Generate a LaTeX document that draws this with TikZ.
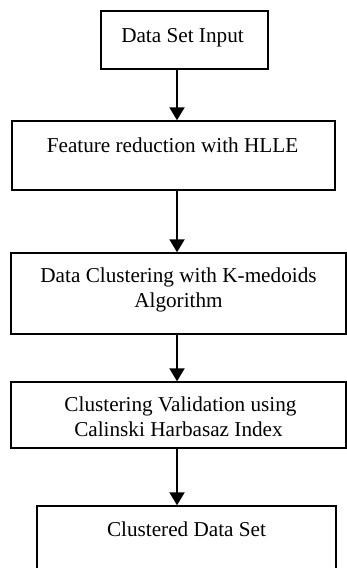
\documentclass[tikz,border=0pt]{standalone}
\usepackage{fontspec}
\setmainfont{Liberation Serif}
\usepackage{tikz}
\usetikzlibrary{arrows.meta,positioning,calc}
\tikzset{
  box/.style={draw=black,line width=1.4pt,inner sep=0pt},
  boxtext/.style={font=\fontsize{21.2}{25}\selectfont,align=center,inner sep=0pt,anchor=base},
  flow/.style={line width=2pt,-{Triangle[length=13pt,width=15pt]}}
}

\begin{document}
\begin{tikzpicture}[x=1pt,y=-1pt]
  \useasboundingbox (0,0) rectangle (347,568);
  \clip (0,0) rectangle (347,568);
  \coordinate (ax) at (177,0);
  % boxes
  \node[box,minimum width=167pt,minimum height=58pt] (b1) at (184.5,40) {};
  \node[box,minimum width=323pt,minimum height=69pt] (b2) at (173.5,155.5) {};
  \node[box,minimum width=335pt,minimum height=81pt] (b3) at (178.5,293.5) {};
  \node[box,minimum width=335pt,minimum height=66pt] (b4) at (178.5,415) {};
  \node[box,minimum width=299pt,minimum height=84pt] (b5) at (186.5,548) {};
  % texts
  \node[boxtext] (t1) at ($(b1.north)+(-2,32)$) {Data Set Input};
  \node[boxtext] (t2) at ($(b2.north)+(-1,32)$) {Feature reduction with HLLE};
  \node[boxtext] (t3) at ($(b3.north)+(0,30)$) {Data Clustering with K-medoids};
  \node[boxtext] (t3b) at ($(b3.north)+(0,55)$) {Algorithm};
  \node[boxtext] (t4) at ($(b4.north)+(2,30)$) {Clustering Validation using};
  \node[boxtext] (t4b) at ($(b4.north)+(0,55)$) {Calinski Harbasaz Index};
  \node[boxtext] (t5) at ($(b5.north)+(0,31)$) {Clustered Data Set};
  % arrows
  \draw[flow] (b1.south -| ax) -- (b2.north -| ax);
  \draw[flow] (b2.south -| ax) -- (b3.north -| ax);
  \draw[flow] (b3.south -| ax) -- (b4.north -| ax);
  \draw[flow] (b4.south -| ax) -- (b5.north -| ax);
\end{tikzpicture}
\end{document}
